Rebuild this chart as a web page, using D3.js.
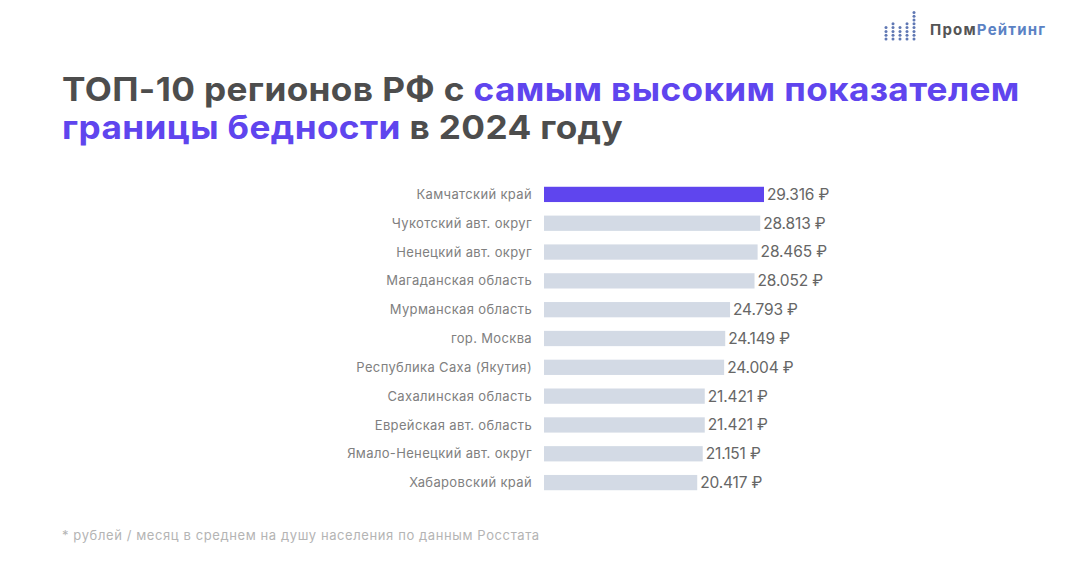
<!DOCTYPE html>
<html>
<head>
<meta charset="utf-8">
<script src="https://cdn.jsdelivr.net/npm/d3@7"></script>
<style>
html,body{margin:0;padding:0;background:#fff;}
text{font-family:Inter,"Open Sans",sans-serif;}
</style>
</head>
<body>
<div id="chart"></div>
<script>
const regions = ["Камчатский край","Чукотский авт. округ","Ненецкий авт. округ","Магаданская область","Мурманская область","гор. Москва","Республика Саха (Якутия)","Сахалинская область","Еврейская авт. область","Ямало-Ненецкий авт. округ","Хабаровский край"];
const values = [29316,28813,28465,28052,24793,24149,24004,21421,21421,21151,20417];
const logoColumns = [4,5,4,5,8];

const width = 1086, height = 564;
const purple = "#5f45ee", grey = "#4d4d4d", barGrey = "#d3dae5", labelGrey = "#808080";

const svg = d3.select("#chart").append("svg")
    .attr("width", width)
    .attr("height", height)
    .style("display","block");

// scales
const x = d3.scaleLinear().domain([0,29316]).range([544,764]);
const y = d3.scaleBand().domain(regions).range([180,497]).paddingInner(0.47).paddingOuter(0.235);

// title, Inter is narrower than the original face so stretch it a bit
const title = svg.append("g")
    .attr("transform","translate(62,0) scale(1.066,1)")
    .attr("font-size",33)
    .attr("font-weight",700);
const line1 = title.append("text").attr("x",0).attr("y",101).attr("fill",grey).style("letter-spacing","0.35px");
line1.append("tspan").text("ТОП-10 регионов РФ с ");
line1.append("tspan").attr("fill",purple).text("самым высоким показателем");
const line2 = title.append("text").attr("x",0).attr("y",139).attr("fill",grey).style("letter-spacing","0.35px");
line2.append("tspan").attr("fill",purple).text("границы бедности");
line2.append("tspan").text(" в 2024 году");

// bars
svg.selectAll("rect.bar")
    .data(regions)
    .join("rect")
    .attr("class","bar")
    .attr("x",x(0))
    .attr("y",d=>y(d))
    .attr("width",(d,i)=>x(values[i])-x(0))
    .attr("height",y.bandwidth())
    .attr("fill",(d,i)=>i===0?purple:barGrey);

svg.selectAll("text.region")
    .data(regions)
    .join("text")
    .attr("class","region")
    .attr("x",532)
    .attr("y",d=>y(d)+y.bandwidth()/2)
    .attr("dy","0.35em")
    .attr("text-anchor","end")
    .attr("font-size",13)
    .attr("fill",labelGrey)
    .style("letter-spacing","0.35px")
    .text(d=>d);

svg.selectAll("text.value")
    .data(regions)
    .join("text")
    .attr("class","value")
    .attr("x",(d,i)=>x(values[i])+3)
    .attr("y",d=>y(d)+y.bandwidth()/2)
    .attr("dy","0.35em")
    .attr("font-size",15.5)
    .attr("fill","#666")
    .style("letter-spacing","-0.15px")
    .text((d,i)=>`${d3.format(",")(values[i]).replace(",",".")} ₽`);

// footnote
svg.append("text")
    .attr("x",62).attr("y",540)
    .attr("font-size",13)
    .attr("fill","#b4b4b4")
    .style("letter-spacing","0.6px")
    .text("* рублей / месяц в среднем на душу населения по данным Росстата");

// logo
const logo = svg.append("g");
logoColumns.forEach((n,c)=>{
    logo.selectAll(`circle.c${c}`)
        .data(d3.range(n))
        .join("circle")
        .attr("class",`c${c}`)
        .attr("cx",886+c*7)
        .attr("cy",d=>39-d*3.8)
        .attr("r",1.5)
        .attr("fill","#6078b4");
});
const logoText = svg.append("text").attr("x",930).attr("y",35).attr("font-size",15).attr("font-weight",700).style("letter-spacing","1.2px");
logoText.append("tspan").attr("fill","#555").text("Пром");
logoText.append("tspan").attr("fill","#5b82c4").text("Рейтинг");
</script>
</body>
</html>
